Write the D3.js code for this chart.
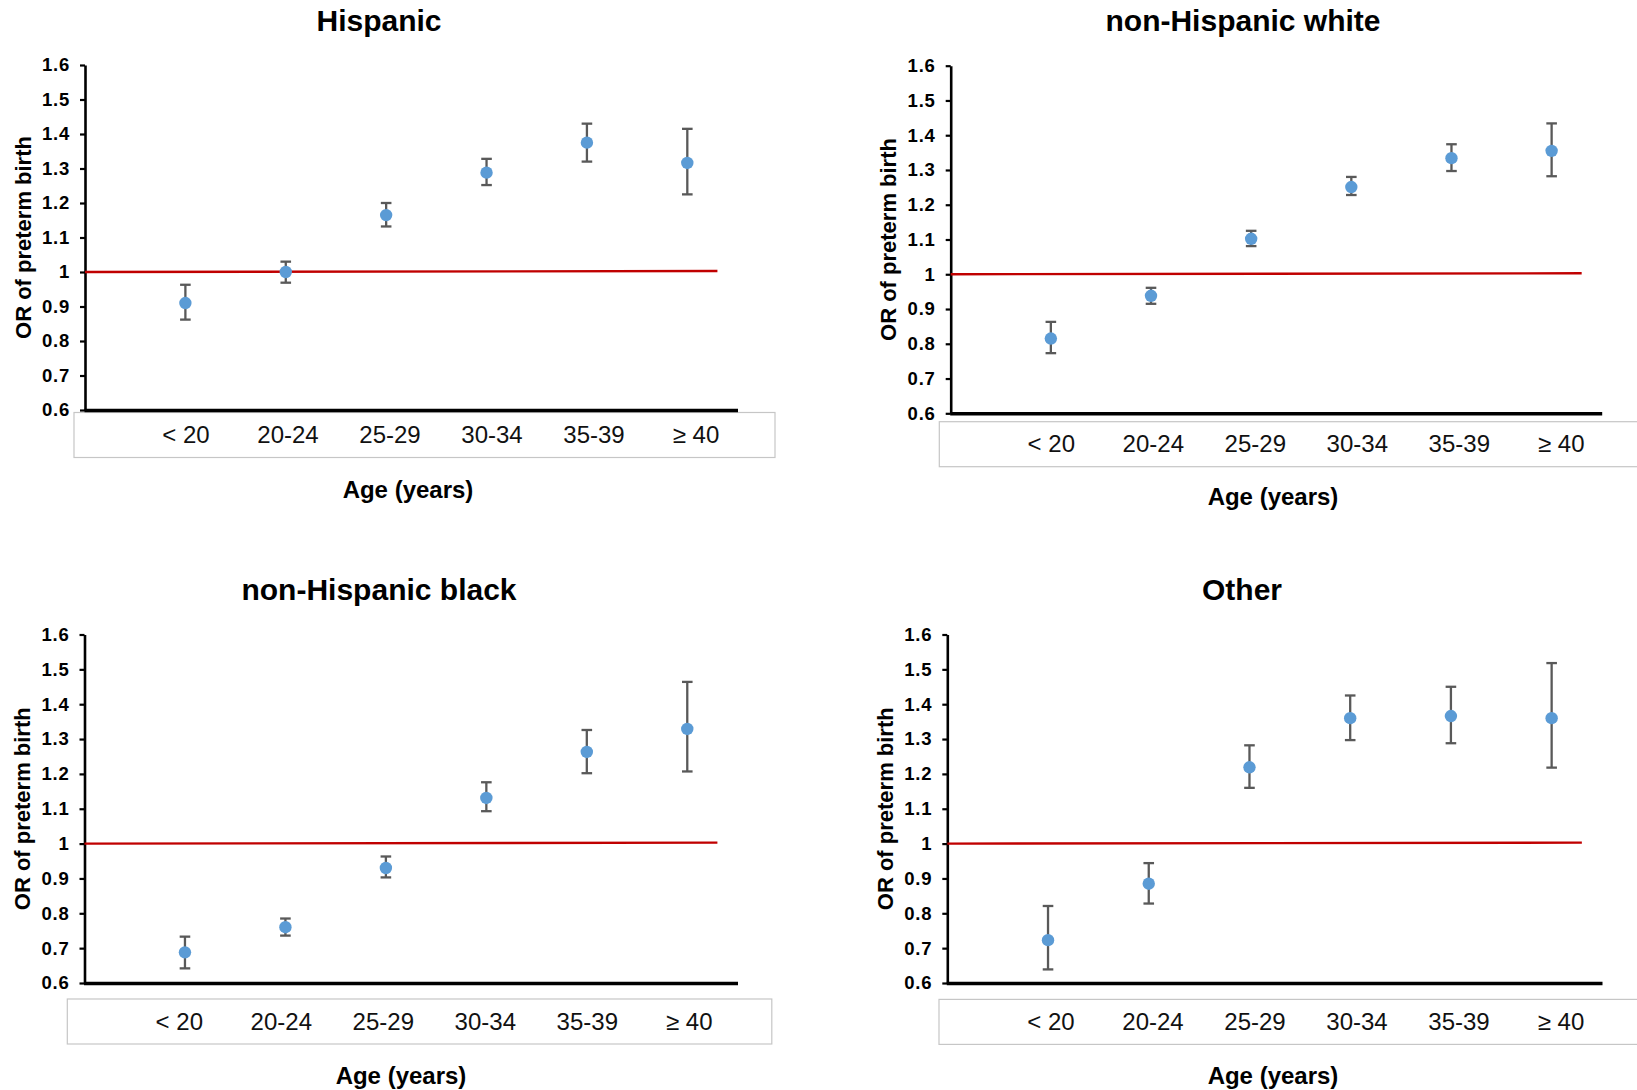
<!DOCTYPE html>
<html>
<head>
<meta charset="utf-8">
<script src="https://cdn.jsdelivr.net/npm/d3@7"></script>
<style>
  html, body { margin: 0; padding: 0; background: #fff; }
  svg { display: block; font-family: "Liberation Sans", Arial, sans-serif; }
</style>
</head>
<body>
<svg id="chart" width="1637" height="1090"></svg>
<script>
// ---- data ----
const categories = ["< 20", "20-24", "25-29", "30-34", "35-39", "≥ 40"];
const groups = ["Hispanic", "non-Hispanic white", "non-Hispanic black", "Other"];
const yTicks = [0.6, 0.7, 0.8, 0.9, 1.0, 1.1, 1.2, 1.3, 1.4, 1.5, 1.6];
const referenceOR = 1.0;

const hispanicOR = [0.910, 1.000, 1.165, 1.288, 1.375, 1.316];
const hispanicLo = [0.862, 0.969, 1.132, 1.252, 1.320, 1.225];
const hispanicHi = [0.963, 1.030, 1.200, 1.328, 1.430, 1.415];

const whiteOR = [0.815, 0.938, 1.102, 1.251, 1.334, 1.355];
const whiteLo = [0.773, 0.915, 1.081, 1.228, 1.297, 1.282];
const whiteHi = [0.863, 0.961, 1.125, 1.280, 1.374, 1.434];

const blackOR = [0.688, 0.760, 0.930, 1.131, 1.263, 1.329];
const blackLo = [0.642, 0.736, 0.903, 1.093, 1.202, 1.207];
const blackHi = [0.733, 0.785, 0.963, 1.176, 1.326, 1.464];

const otherOR = [0.723, 0.885, 1.219, 1.360, 1.366, 1.360];
const otherLo = [0.639, 0.828, 1.160, 1.297, 1.288, 1.218];
const otherHi = [0.821, 0.944, 1.282, 1.425, 1.450, 1.518];

const seriesOR = [hispanicOR, whiteOR, blackOR, otherOR];
const seriesLo = [hispanicLo, whiteLo, blackLo, otherLo];
const seriesHi = [hispanicHi, whiteHi, blackHi, otherHi];

// ---- layout (positions only) ----
const layouts = [
  { x0: 85,    x1: 737.5,  yTop: 65,    yBot: 410,   boxL: 74,    boxT: 412.5, boxW: 701,  titleX: 379,  titleY: 31,  yTitleX: 23,  xTitleX: 408,  xTitleY: 498 },
  { x0: 950.7, x1: 1601.7, yTop: 65.7,  yBot: 413.3, boxL: 939.3, boxT: 421.7, boxW: 720,  titleX: 1243, titleY: 31,  yTitleX: 888, xTitleX: 1273, xTitleY: 505 },
  { x0: 84.5,  x1: 737.5,  yTop: 634.5, yBot: 983,   boxL: 67.3,  boxT: 999,   boxW: 704.5,titleX: 379,  titleY: 600, yTitleX: 22,  xTitleX: 401,  xTitleY: 1084 },
  { x0: 947.3, x1: 1602,   yTop: 634.5, yBot: 983,   boxL: 939,   boxT: 999.4, boxW: 720,  titleX: 1242, titleY: 600, yTitleX: 885, xTitleX: 1273, xTitleY: 1084 }
];

const svg = d3.select("#chart");
svg.append("rect").attr("width", 1637).attr("height", 1090).attr("fill", "#fff");

groups.forEach((name, gi) => {
  const L = layouts[gi];
  const g = svg.append("g");
  const step = (L.x1 - L.x0) / 6.5;

  const x = d3.scalePoint().domain(categories).range([L.x0 + step, L.x0 + 6 * step]);
  const y = d3.scaleLinear().domain([0.6, 1.6]).range([L.yBot, L.yTop]);
  const xLabel = d3.scalePoint().domain(categories).range([L.boxL + 112, L.boxL + 622]);

  // label table box
  g.append("rect")
    .attr("x", L.boxL).attr("y", L.boxT)
    .attr("width", L.boxW).attr("height", 45)
    .attr("fill", "#fff").attr("stroke", "#c6c6c6").attr("stroke-width", 1.2);

  g.selectAll("text.cat").data(categories).enter().append("text")
    .attr("class", "cat")
    .attr("x", d => xLabel(d))
    .attr("y", L.boxT + 30.5)
    .attr("text-anchor", "middle")
    .attr("font-size", 24)
    .attr("fill", "#111")
    .text(d => d);

  // y axis
  const yAxis = d3.axisLeft(y).tickValues(yTicks).tickSize(5).tickSizeOuter(0).tickPadding(10)
    .tickFormat(d => d === 1 ? "1" : d3.format(".1f")(d));
  const ya = g.append("g").attr("transform", `translate(${L.x0},0)`).call(yAxis);
  ya.select(".domain").attr("stroke", "#000").attr("stroke-width", 2.6);
  ya.selectAll(".tick line").attr("stroke", "#000").attr("stroke-width", 2.2);
  ya.selectAll(".tick text")
    .attr("font-size", 18.5).attr("font-weight", "bold").attr("fill", "#000")
    .attr("font-family", "'Liberation Sans', Arial, sans-serif")
    .attr("letter-spacing", 0.8);

  // x axis line
  const xAxis = d3.axisBottom(d3.scaleLinear().domain([0, 1]).range([L.x0 - 1, L.x1])).tickValues([]).tickSizeOuter(0);
  const xa = g.append("g").attr("transform", `translate(0,${L.yBot})`).call(xAxis);
  xa.select(".domain").attr("stroke", "#000").attr("stroke-width", 3.6);

  // reference line at OR = 1
  g.append("line")
    .attr("x1", L.x0).attr("x2", x(categories[5]) + 0.3 * step)
    .attr("y1", y(referenceOR)).attr("y2", y(referenceOR) - 1)
    .attr("stroke", "#c00000").attr("stroke-width", 2.4);

  // error bars
  const rows = categories.map((c, i) => ({ c, or: seriesOR[gi][i], lo: seriesLo[gi][i], hi: seriesHi[gi][i] }));
  const eb = g.selectAll("g.eb").data(rows).enter().append("g").attr("class", "eb")
    .attr("stroke", "#595959").attr("stroke-width", 2.3);
  eb.append("line").attr("x1", d => x(d.c)).attr("x2", d => x(d.c)).attr("y1", d => y(d.lo)).attr("y2", d => y(d.hi));
  eb.append("line").attr("x1", d => x(d.c) - 5.3).attr("x2", d => x(d.c) + 5.3).attr("y1", d => y(d.lo)).attr("y2", d => y(d.lo));
  eb.append("line").attr("x1", d => x(d.c) - 5.3).attr("x2", d => x(d.c) + 5.3).attr("y1", d => y(d.hi)).attr("y2", d => y(d.hi));

  // points
  g.selectAll("circle.pt").data(rows).enter().append("circle")
    .attr("class", "pt")
    .attr("cx", d => x(d.c)).attr("cy", d => y(d.or)).attr("r", 6.2)
    .attr("fill", "#5b9bd5");

  // titles
  g.append("text").attr("x", L.titleX).attr("y", L.titleY)
    .attr("text-anchor", "middle").attr("font-size", 30).attr("font-weight", "bold").attr("fill", "#000")
    .text(name);

  g.append("text")
    .attr("transform", `translate(${L.yTitleX},${(L.yTop + L.yBot) / 2}) rotate(-90)`)
    .attr("text-anchor", "middle").attr("dy", "0.35em")
    .attr("font-size", 22).attr("font-weight", "bold").attr("fill", "#000")
    .text("OR of preterm birth");

  g.append("text").attr("x", L.xTitleX).attr("y", L.xTitleY)
    .attr("text-anchor", "middle").attr("font-size", 24).attr("font-weight", "bold").attr("fill", "#000")
    .text("Age (years)");
});
</script>
</body>
</html>
